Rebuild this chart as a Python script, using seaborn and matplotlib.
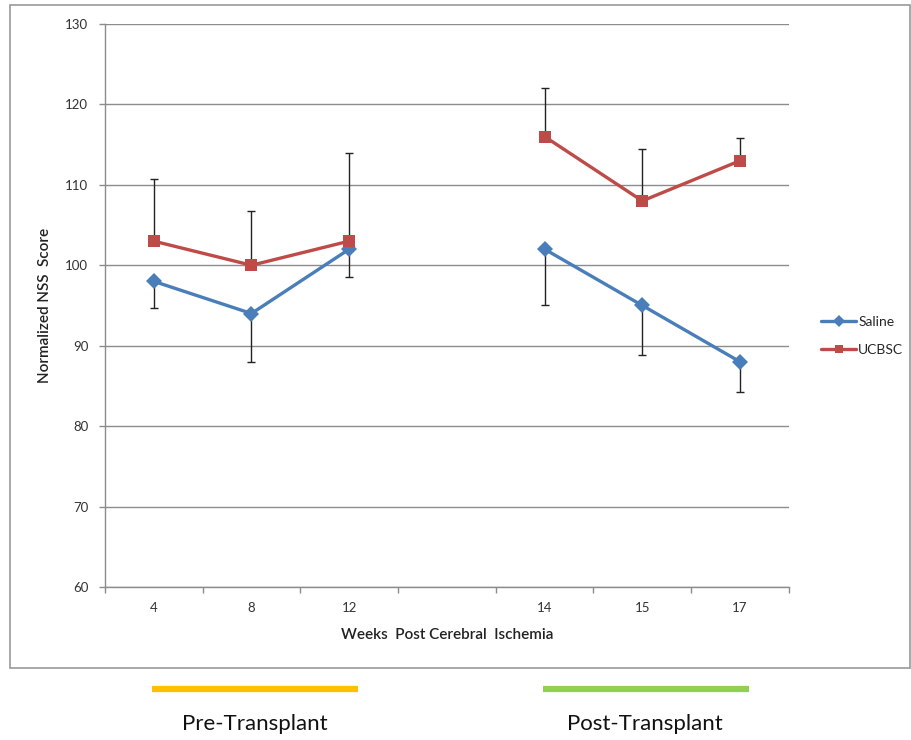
import numpy as np
import pandas as pd
import matplotlib
matplotlib.use("Agg")
import matplotlib.pyplot as plt
import matplotlib.transforms as mtransforms
from matplotlib.patches import Rectangle
from matplotlib.lines import Line2D
import seaborn as sns

# --- data ---
WEEK_LABELS = ["4", "8", "12", "", "14", "15", "17"]
SEGMENT = ["pre", "pre", "pre", None, "post", "post", "post"]
SALINE = [98, 94, 102, np.nan, 102, 95, 88]
SALINE_LOW = [94.7, 88.0, 98.6, np.nan, 95.0, 88.9, 84.3]
UCBSC = [103, 100, 103, np.nan, 116, 108, 113]
UCBSC_HIGH = [110.7, 106.8, 114.0, np.nan, 122.1, 114.5, 115.8]
PHASES = ["Pre-Transplant", "Post-Transplant"]
PHASE_COLORS = ["#FFC000", "#92D050"]
PHASE_SPAN = [(0, 2), (4, 6)]

COLORS = {"Saline": "#4A7EBB", "UCBSC": "#BE4B48"}
MARKERS = {"Saline": "D", "UCBSC": "s"}

sns.set_style("white")
plt.rcParams["font.family"] = ["Lato", "DejaVu Sans"]

pos = np.arange(len(WEEK_LABELS))
rows = []
for grp, vals in (("Saline", SALINE), ("UCBSC", UCBSC)):
    for p, seg, v in zip(pos, SEGMENT, vals):
        if seg is not None:
            rows.append({"pos": p, "score": v, "group": grp, "segment": seg})
df = pd.DataFrame(rows)

fig = plt.figure(figsize=(9.12, 7.4), dpi=100)
ax = fig.add_axes([0.115, 0.2068, 0.75, 0.7608])

# error bars (one-sided), drawn under the lines
sal = np.array(SALINE, dtype=float)
ucb = np.array(UCBSC, dtype=float)
ax.errorbar(pos, sal, yerr=[sal - np.array(SALINE_LOW), np.zeros_like(sal)],
            fmt="none", ecolor="#222222", elinewidth=1, capsize=3, capthick=1, zorder=2)
ax.errorbar(pos, ucb, yerr=[np.zeros_like(ucb), np.array(UCBSC_HIGH) - ucb],
            fmt="none", ecolor="#222222", elinewidth=1, capsize=3, capthick=1, zorder=2)

sns.lineplot(data=df, x="pos", y="score", hue="group", style="group",
             units="segment", estimator=None, palette=COLORS,
             markers=MARKERS, dashes=False, legend=False,
             linewidth=2.4, markersize=8, markeredgewidth=0, ax=ax, zorder=3)

# axes styling
ax.set_ylim(60, 130)
ax.set_xlim(-0.5, len(WEEK_LABELS) - 0.5)
ax.set_yticks(np.arange(60, 131, 10))
ax.yaxis.grid(True, color="#8C8C8C", linewidth=1)
ax.set_axisbelow(True)
for s in ("top", "right"):
    ax.spines[s].set_visible(False)
for s in ("left", "bottom"):
    ax.spines[s].set_color("#8C8C8C")
    ax.spines[s].set_linewidth(1)

ax.set_xticks(np.arange(len(WEEK_LABELS) + 1) - 0.5)
ax.set_xticklabels([])
ax.set_xticks(pos, minor=True)
ax.set_xticklabels(WEEK_LABELS, minor=True)
ax.tick_params(axis="x", which="major", direction="out", length=4, color="#8C8C8C", width=1)
ax.tick_params(axis="x", which="minor", length=0, pad=11, labelsize=9.5, labelcolor="#333333")
ax.tick_params(axis="y", direction="out", length=4, color="#8C8C8C", width=1,
               pad=8, labelsize=9.5, labelcolor="#333333")
ax.tick_params(bottom=True, left=True)

ax.set_xlabel("Weeks  Post Cerebral  Ischemia", fontsize=11, fontweight="semibold", color="#222222")
ax.set_ylabel("Normalized NSS  Score", fontsize=11, fontweight="semibold", color="#222222")
ax.xaxis.set_label_coords(0.5, -0.072)
ax.yaxis.set_label_coords(-0.077, 0.5)

handles = [Line2D([], [], color=COLORS[g], marker=MARKERS[g], markersize=6,
                  markeredgewidth=0, linewidth=2.4) for g in COLORS]
ax.legend(handles, list(COLORS), loc="center left", bbox_to_anchor=(0.887, 0.546),
          bbox_transform=fig.transFigure, frameon=False, fontsize=10,
          handlelength=2.5, handletextpad=0.15, labelspacing=1.2)

# phase bars and captions below the chart
trans = mtransforms.blended_transform_factory(ax.transData, fig.transFigure)
for name, col, (a, b) in zip(PHASES, PHASE_COLORS, PHASE_SPAN):
    ax.plot([a - 0.02, b + 0.09], [0.069, 0.069], transform=trans, color=col,
            linewidth=4.5, solid_capstyle="butt", clip_on=False)
    ax.text((a + b) / 2 + 0.03, 0.022, name, transform=trans, ha="center", va="center",
            fontsize=16, color="#111111")

# outer frame
fig.add_artist(Rectangle((0.011, 0.097), 0.987, 0.896, transform=fig.transFigure,
                         fill=False, edgecolor="#999999", linewidth=1.2))

fig.savefig("out.png", dpi=100)
